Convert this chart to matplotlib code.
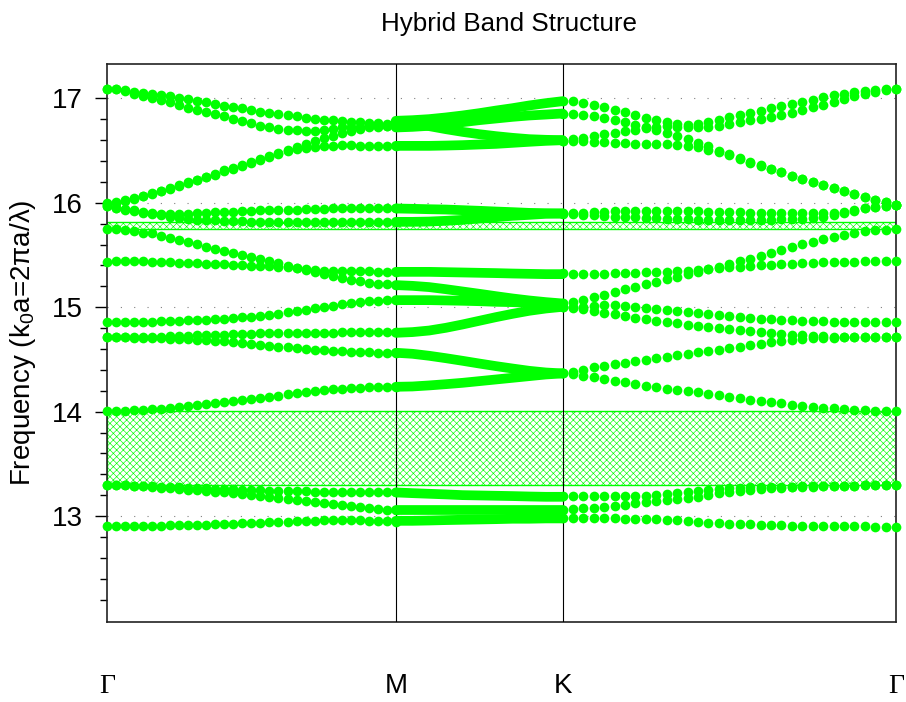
import numpy as np
import matplotlib.pyplot as plt
from matplotlib import transforms
from matplotlib.ticker import FixedLocator

plt.rcParams['font.family'] = ['Liberation Sans', 'DejaVu Sans']
plt.rcParams['mathtext.fontset'] = 'custom'
plt.rcParams['mathtext.rm'] = 'Liberation Sans'
plt.rcParams['mathtext.it'] = 'Liberation Sans'
plt.rcParams['hatch.linewidth'] = 0.45

GREEN = '#00ff00'

# high-symmetry points of the hexagonal path
k_M = 1.0
k_K = 1.0 + 1.0 / np.sqrt(3)
k_G = 1.0 + np.sqrt(3)
sym_pos = [0.0, k_M, k_K, k_G]
sym_labels = ['Γ', 'M', 'K', 'Γ']

# band gaps (hatched)
gaps = [(13.296, 14.005), (15.748, 15.812)]

# Gamma -> M, 33 k-points per band
gm_bands = [
    [17.089, 17.089, 17.079, 17.063, 17.054, 17.047, 17.035, 17.022, 17.009, 16.993, 16.977, 16.964, 16.948, 16.932, 16.920, 16.904, 16.891,
     16.875, 16.862, 16.853, 16.840, 16.830, 16.817, 16.808, 16.798, 16.789, 16.782, 16.776, 16.770, 16.766, 16.763, 16.760, 16.760],
    [17.089, 17.086, 17.070, 17.047, 17.022, 17.006, 16.983, 16.964, 16.936, 16.913, 16.891, 16.868, 16.853, 16.830, 16.805, 16.782, 16.763,
     16.741, 16.725, 16.709, 16.702, 16.696, 16.690, 16.690, 16.696, 16.709, 16.722, 16.728, 16.731, 16.734, 16.738, 16.741, 16.744],
    [15.994, 16.010, 16.026, 16.048, 16.070, 16.093, 16.115, 16.144, 16.169, 16.198, 16.223, 16.252, 16.278, 16.310, 16.335, 16.361, 16.393,
     16.421, 16.447, 16.479, 16.508, 16.536, 16.568, 16.594, 16.619, 16.645, 16.670, 16.693, 16.709, 16.722, 16.731, 16.738, 16.744],
    [15.987, 16.003, 16.019, 16.041, 16.064, 16.086, 16.109, 16.137, 16.163, 16.191, 16.217, 16.246, 16.271, 16.303, 16.329, 16.354, 16.386,
     16.415, 16.440, 16.466, 16.492, 16.514, 16.527, 16.536, 16.543, 16.549, 16.552, 16.552, 16.549, 16.549, 16.549, 16.549, 16.549],
    [15.968, 15.955, 15.939, 15.927, 15.914, 15.904, 15.898, 15.895, 15.895, 15.898, 15.901, 15.904, 15.911, 15.914, 15.917, 15.920, 15.923,
     15.927, 15.930, 15.933, 15.936, 15.936, 15.939, 15.943, 15.943, 15.946, 15.946, 15.949, 15.949, 15.949, 15.952, 15.952, 15.952],
    [15.968, 15.952, 15.936, 15.920, 15.907, 15.895, 15.882, 15.869, 15.856, 15.847, 15.840, 15.834, 15.831, 15.828, 15.824, 15.824, 15.821,
     15.821, 15.821, 15.818, 15.818, 15.818, 15.818, 15.818, 15.818, 15.818, 15.818, 15.818, 15.818, 15.818, 15.818, 15.818, 15.818],
    [15.748, 15.748, 15.739, 15.732, 15.716, 15.707, 15.685, 15.665, 15.643, 15.627, 15.605, 15.579, 15.554, 15.538, 15.515, 15.496, 15.477,
     15.461, 15.442, 15.420, 15.397, 15.378, 15.359, 15.340, 15.321, 15.301, 15.282, 15.263, 15.247, 15.234, 15.225, 15.218, 15.212],
    [15.435, 15.442, 15.442, 15.442, 15.439, 15.435, 15.432, 15.429, 15.426, 15.423, 15.420, 15.416, 15.413, 15.410, 15.407, 15.404, 15.397,
     15.394, 15.391, 15.388, 15.381, 15.372, 15.365, 15.359, 15.352, 15.349, 15.346, 15.346, 15.343, 15.343, 15.340, 15.340, 15.340],
    [14.854, 14.854, 14.854, 14.857, 14.857, 14.861, 14.864, 14.867, 14.870, 14.874, 14.877, 14.880, 14.886, 14.889, 14.896, 14.902, 14.909,
     14.918, 14.928, 14.937, 14.950, 14.963, 14.976, 14.988, 15.001, 15.014, 15.027, 15.036, 15.046, 15.056, 15.062, 15.065, 15.068],
    [14.711, 14.711, 14.711, 14.711, 14.714, 14.717, 14.717, 14.720, 14.723, 14.727, 14.730, 14.733, 14.736, 14.736, 14.739, 14.743, 14.746,
     14.749, 14.752, 14.752, 14.752, 14.755, 14.755, 14.755, 14.755, 14.755, 14.759, 14.759, 14.759, 14.759, 14.759, 14.759, 14.759],
    [14.711, 14.711, 14.711, 14.708, 14.708, 14.704, 14.701, 14.698, 14.695, 14.692, 14.688, 14.685, 14.679, 14.672, 14.666, 14.656, 14.647,
     14.637, 14.631, 14.621, 14.615, 14.605, 14.599, 14.593, 14.586, 14.580, 14.577, 14.573, 14.570, 14.567, 14.564, 14.564, 14.564],
    [14.005, 14.005, 14.008, 14.011, 14.015, 14.021, 14.027, 14.037, 14.047, 14.056, 14.063, 14.069, 14.079, 14.088, 14.098, 14.107, 14.117,
     14.130, 14.142, 14.152, 14.165, 14.174, 14.187, 14.197, 14.206, 14.213, 14.219, 14.225, 14.229, 14.232, 14.235, 14.238, 14.238],
    [13.296, 13.296, 13.293, 13.290, 13.287, 13.283, 13.280, 13.277, 13.274, 13.271, 13.267, 13.264, 13.261, 13.258, 13.255, 13.252, 13.248,
     13.245, 13.242, 13.242, 13.239, 13.236, 13.236, 13.232, 13.232, 13.229, 13.229, 13.229, 13.226, 13.226, 13.226, 13.226, 13.226],
    [13.296, 13.296, 13.293, 13.287, 13.283, 13.277, 13.271, 13.264, 13.258, 13.252, 13.245, 13.239, 13.232, 13.226, 13.216, 13.210, 13.200,
     13.191, 13.181, 13.172, 13.162, 13.152, 13.143, 13.133, 13.124, 13.114, 13.105, 13.095, 13.085, 13.076, 13.066, 13.060, 13.057],
    [12.903, 12.903, 12.903, 12.903, 12.903, 12.907, 12.907, 12.910, 12.910, 12.913, 12.913, 12.916, 12.919, 12.923, 12.926, 12.929, 12.932,
     12.935, 12.939, 12.942, 12.945, 12.948, 12.951, 12.954, 12.958, 12.961, 12.961, 12.961, 12.958, 12.954, 12.951, 12.948, 12.945],
]

# M -> K, 11 k-points per band (densely sampled, drawn as solid strokes)
mk_bands = [
    [16.786, 16.792, 16.802, 16.818, 16.837, 16.859, 16.884, 16.907, 16.933, 16.955, 16.974],
    [16.722, 16.728, 16.738, 16.754, 16.773, 16.792, 16.808, 16.824, 16.837, 16.846, 16.856],
    [16.776, 16.760, 16.735, 16.706, 16.680, 16.658, 16.639, 16.623, 16.610, 16.604, 16.600],
    [16.546, 16.546, 16.546, 16.549, 16.553, 16.559, 16.565, 16.575, 16.585, 16.594, 16.600],
    [15.946, 15.943, 15.939, 15.936, 15.930, 15.924, 15.917, 15.911, 15.904, 15.901, 15.898],
    [15.818, 15.818, 15.821, 15.828, 15.837, 15.850, 15.863, 15.876, 15.885, 15.895, 15.898],
    [15.339, 15.339, 15.339, 15.336, 15.333, 15.330, 15.327, 15.323, 15.320, 15.317, 15.317],
    [15.212, 15.205, 15.193, 15.173, 15.151, 15.129, 15.106, 15.084, 15.065, 15.049, 15.036],
    [15.068, 15.068, 15.068, 15.065, 15.062, 15.058, 15.052, 15.049, 15.042, 15.036, 15.030],
    [14.755, 14.762, 14.777, 14.803, 14.835, 14.870, 14.905, 14.937, 14.966, 14.988, 15.004],
    [14.564, 14.554, 14.535, 14.512, 14.487, 14.461, 14.436, 14.413, 14.391, 14.375, 14.366],
    [14.238, 14.241, 14.251, 14.263, 14.276, 14.292, 14.308, 14.324, 14.340, 14.356, 14.366],
    [13.226, 13.219, 13.213, 13.207, 13.200, 13.197, 13.194, 13.191, 13.187, 13.184, 13.184],
    [13.056, 13.056, 13.056, 13.056, 13.056, 13.056, 13.056, 13.056, 13.056, 13.056, 13.056],
    [12.954, 12.954, 12.957, 12.961, 12.964, 12.967, 12.970, 12.974, 12.974, 12.977, 12.977],
]

# K -> Gamma, 33 k-points per band
kg_bands = [
    [16.974, 16.974, 16.961, 16.942, 16.920, 16.894, 16.868, 16.843, 16.817, 16.795, 16.776, 16.760, 16.750, 16.760, 16.776, 16.798, 16.824,
     16.843, 16.862, 16.881, 16.904, 16.926, 16.945, 16.967, 16.990, 17.012, 17.031, 17.047, 17.063, 17.073, 17.079, 17.086, 17.089],
    [16.591, 16.607, 16.623, 16.639, 16.655, 16.670, 16.686, 16.702, 16.715, 16.728, 16.738, 16.731, 16.728, 16.725, 16.728, 16.741, 16.757,
     16.773, 16.789, 16.805, 16.824, 16.846, 16.865, 16.888, 16.916, 16.942, 16.967, 16.993, 17.022, 17.047, 17.066, 17.079, 17.089],
    [16.856, 16.856, 16.846, 16.830, 16.814, 16.795, 16.773, 16.750, 16.725, 16.699, 16.674, 16.645, 16.613, 16.578, 16.540, 16.501, 16.466,
     16.431, 16.396, 16.361, 16.329, 16.297, 16.262, 16.230, 16.201, 16.169, 16.140, 16.112, 16.083, 16.057, 16.032, 16.006, 15.978],
    [16.591, 16.591, 16.591, 16.587, 16.581, 16.578, 16.571, 16.568, 16.568, 16.565, 16.562, 16.556, 16.546, 16.533, 16.511, 16.485, 16.457,
     16.421, 16.386, 16.351, 16.323, 16.297, 16.262, 16.230, 16.201, 16.169, 16.140, 16.112, 16.083, 16.057, 16.032, 16.006, 15.978],
    [15.904, 15.904, 15.907, 15.914, 15.914, 15.920, 15.923, 15.923, 15.923, 15.923, 15.923, 15.923, 15.920, 15.920, 15.917, 15.917, 15.914,
     15.911, 15.907, 15.907, 15.904, 15.904, 15.904, 15.904, 15.904, 15.904, 15.907, 15.914, 15.930, 15.946, 15.962, 15.968, 15.978],
    [15.898, 15.891, 15.885, 15.879, 15.872, 15.866, 15.863, 15.860, 15.856, 15.853, 15.850, 15.847, 15.844, 15.840, 15.840, 15.840, 15.840,
     15.840, 15.840, 15.840, 15.840, 15.844, 15.847, 15.850, 15.856, 15.866, 15.882, 15.904, 15.923, 15.946, 15.962, 15.971, 15.978],
    [15.324, 15.317, 15.317, 15.317, 15.321, 15.324, 15.327, 15.330, 15.333, 15.336, 15.340, 15.343, 15.349, 15.356, 15.365, 15.375, 15.381,
     15.388, 15.394, 15.400, 15.407, 15.413, 15.416, 15.420, 15.426, 15.429, 15.432, 15.432, 15.435, 15.439, 15.439, 15.442, 15.442],
    [15.036, 15.049, 15.068, 15.094, 15.119, 15.145, 15.170, 15.196, 15.222, 15.244, 15.266, 15.292, 15.314, 15.340, 15.362, 15.388, 15.413,
     15.439, 15.464, 15.490, 15.515, 15.547, 15.579, 15.605, 15.627, 15.649, 15.675, 15.694, 15.713, 15.726, 15.736, 15.742, 15.748],
    [15.004, 15.004, 15.004, 15.011, 15.017, 15.017, 15.011, 14.998, 14.988, 14.982, 14.976, 14.966, 14.957, 14.947, 14.937, 14.925, 14.915,
     14.905, 14.896, 14.889, 14.883, 14.877, 14.874, 14.870, 14.867, 14.864, 14.861, 14.861, 14.857, 14.857, 14.854, 14.854, 14.854],
    [15.004, 14.995, 14.982, 14.966, 14.947, 14.931, 14.915, 14.899, 14.883, 14.870, 14.857, 14.845, 14.832, 14.822, 14.809, 14.800, 14.790,
     14.781, 14.771, 14.762, 14.752, 14.743, 14.736, 14.730, 14.723, 14.720, 14.717, 14.714, 14.714, 14.711, 14.711, 14.711, 14.711],
    [14.372, 14.379, 14.401, 14.423, 14.439, 14.455, 14.468, 14.481, 14.497, 14.509, 14.525, 14.538, 14.554, 14.567, 14.580, 14.593, 14.605,
     14.621, 14.634, 14.650, 14.663, 14.676, 14.685, 14.695, 14.701, 14.704, 14.708, 14.711, 14.711, 14.711, 14.711, 14.711, 14.711],
    [14.372, 14.359, 14.340, 14.327, 14.311, 14.295, 14.280, 14.264, 14.248, 14.235, 14.219, 14.206, 14.197, 14.184, 14.168, 14.155, 14.142,
     14.126, 14.110, 14.101, 14.088, 14.079, 14.066, 14.056, 14.047, 14.037, 14.031, 14.024, 14.015, 14.011, 14.008, 14.005, 14.005],
    [13.191, 13.191, 13.191, 13.191, 13.191, 13.194, 13.194, 13.194, 13.194, 13.200, 13.207, 13.216, 13.226, 13.239, 13.248, 13.258, 13.264,
     13.271, 13.277, 13.280, 13.280, 13.280, 13.280, 13.283, 13.287, 13.287, 13.287, 13.290, 13.290, 13.293, 13.293, 13.296, 13.296],
    [13.057, 13.063, 13.073, 13.079, 13.089, 13.095, 13.105, 13.121, 13.130, 13.143, 13.152, 13.162, 13.175, 13.184, 13.200, 13.216, 13.226,
     13.239, 13.248, 13.258, 13.264, 13.271, 13.274, 13.280, 13.280, 13.287, 13.287, 13.290, 13.290, 13.293, 13.293, 13.296, 13.296],
    [12.977, 12.977, 12.977, 12.977, 12.977, 12.977, 12.974, 12.970, 12.967, 12.967, 12.964, 12.961, 12.954, 12.945, 12.935, 12.929, 12.926,
     12.923, 12.919, 12.916, 12.913, 12.910, 12.907, 12.907, 12.903, 12.903, 12.903, 12.900, 12.900, 12.900, 12.897, 12.897, 12.897],
]

fig = plt.figure(figsize=(9.06, 7.02), dpi=100)
ax = fig.add_axes([0.1181, 0.1140, 0.8709, 0.7948])

x_gm = np.linspace(0.0, k_M, len(gm_bands[0]))
x_mk = np.linspace(k_M, k_K, len(mk_bands[0]))
x_kg = np.linspace(k_K, k_G, len(kg_bands[0]))

dot = dict(ls='none', marker='o', ms=7.0, mew=0, color=GREEN, clip_on=False, zorder=4)
for band in gm_bands:
    ax.plot(x_gm, band, **dot)
for band in kg_bands:
    ax.plot(x_kg, band, **dot)
for band in mk_bands:
    ax.plot(x_mk, band, color=GREEN, lw=7.0, solid_capstyle='round',
            solid_joinstyle='round', zorder=4)

for lo, hi in gaps:
    ax.axhspan(lo, hi, facecolor='none', edgecolor=GREEN, hatch='xxxxx', lw=1.0, zorder=2)

# dotted guide lines at integer frequencies
for yv in [13, 14, 15, 16, 17]:
    ax.axhline(yv, color='#808080', lw=0.8, ls=(0, (1, 11)), zorder=1)

for xv in [k_M, k_K]:
    ax.axvline(xv, color='black', lw=0.8, zorder=3)

ax.set_xlim(0.0, k_G)
ax.set_ylim(11.985, 17.33)
ax.set_xticks([])
ax.set_yticks([13, 14, 15, 16, 17])
minor = [v for v in np.round(np.arange(12.2, 17.0, 0.2), 1) if abs(v - round(v)) > 1e-6]
ax.yaxis.set_minor_locator(FixedLocator(minor))
ax.tick_params(axis='y', which='major', direction='out', length=8.5, width=1.0, labelsize=20, pad=9)
ax.tick_params(axis='y', which='minor', direction='out', length=5, width=1.0)
for sp in ax.spines.values():
    sp.set_linewidth(1.2)
    sp.set_color('#222222')

ax.set_ylabel('Frequency (k$_0$a=2πa/λ)', fontsize=20, labelpad=10)
fig.text(0.5615, 1 - 24 / 702, 'Hybrid Band Structure', ha='center', va='center', fontsize=18.7)

trans = transforms.blended_transform_factory(ax.transData, ax.transAxes)
for xv, lab in zip(sym_pos, sym_labels):
    fam = ['Liberation Serif', 'DejaVu Serif'] if lab == 'Γ' else ['Liberation Sans', 'DejaVu Sans']
    ax.text(xv, -0.115, lab, transform=trans, ha='center', va='center', fontsize=20, family=fam)

fig.savefig('out.png', dpi=100)
